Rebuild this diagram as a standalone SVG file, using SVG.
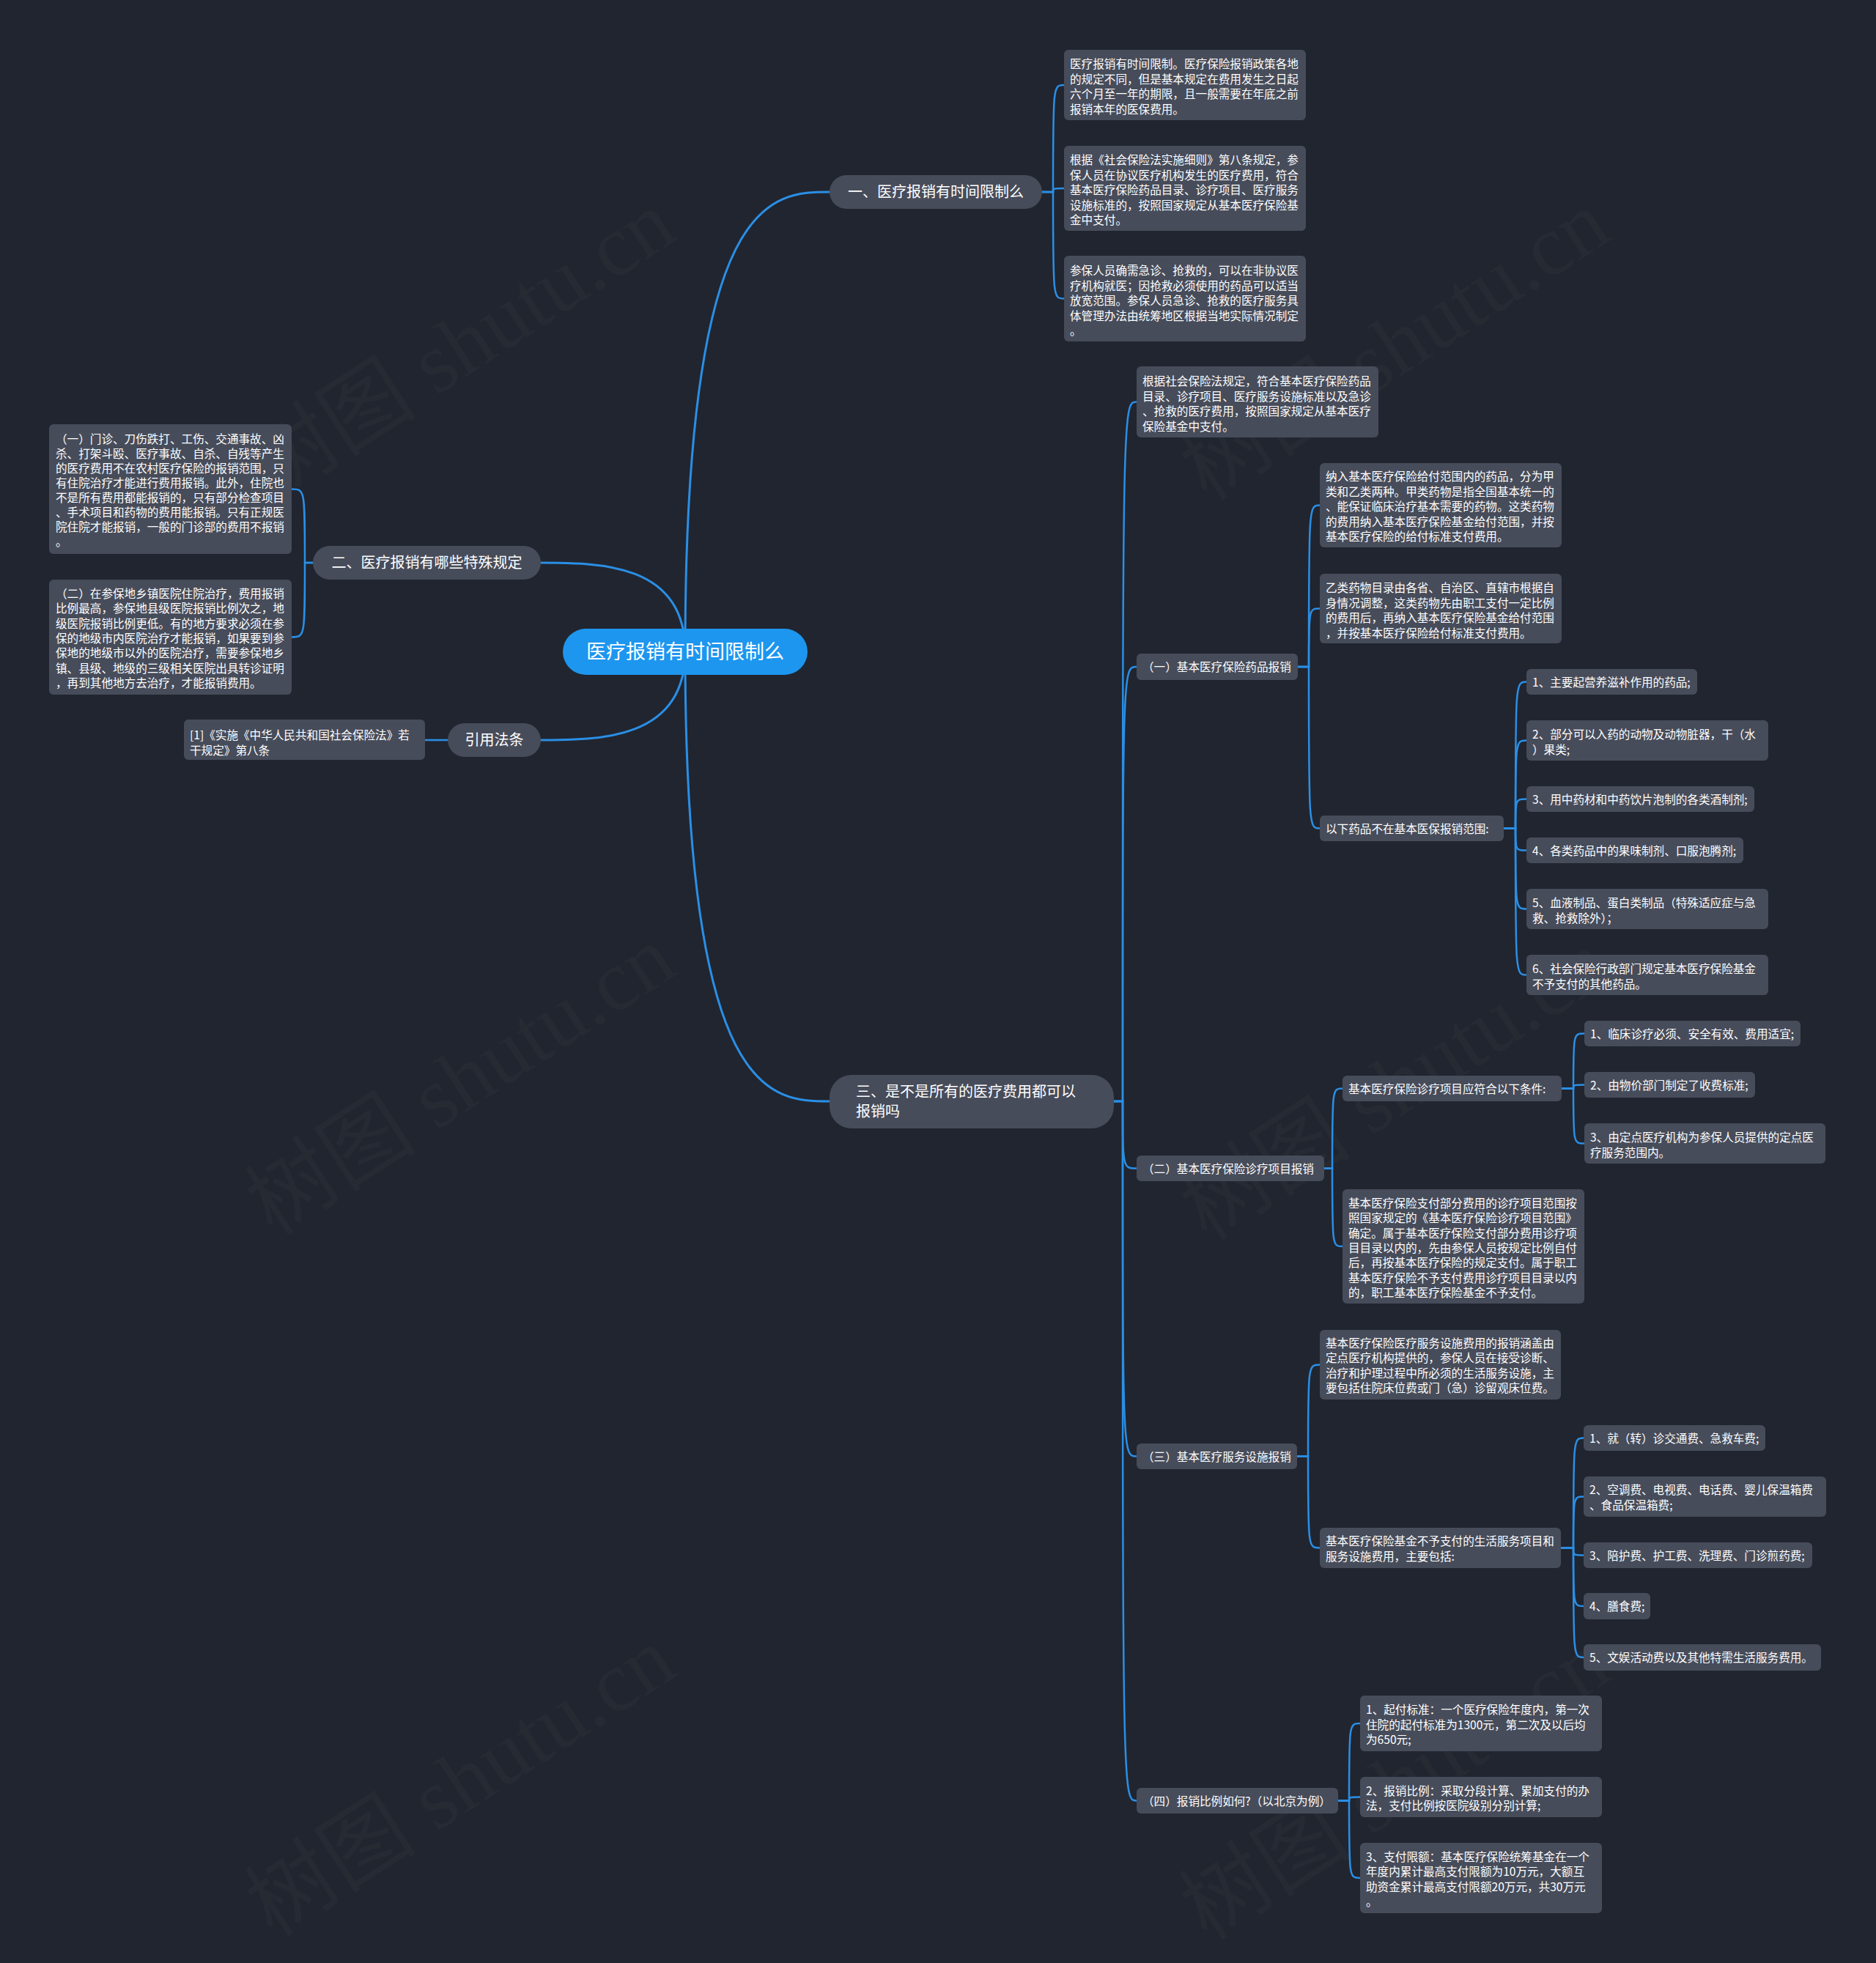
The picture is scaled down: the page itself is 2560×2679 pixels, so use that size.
<svg xmlns="http://www.w3.org/2000/svg" width="2560" height="2679" viewBox="0 0 2560 2679">
<style>
.bg{fill:#21252f}
.wm{fill:#ffffff;fill-opacity:0.025;font-family:"Liberation Serif","Noto Sans CJK SC",serif;font-size:118px}
.ln1{fill:none;stroke:#2a8fe6;stroke-width:3;stroke-linecap:round}
.ln2{fill:none;stroke:#2a8fe6;stroke-width:2.5;stroke-linecap:round}
.box{fill:#474c5a}
.ctr{fill:#1d96ef}
.t{fill:#ffffff;font-family:"Noto Sans CJK SC","Noto Sans",sans-serif;font-size:15.6px}
.tb{fill:#ffffff;font-family:"Noto Sans CJK SC","Noto Sans",sans-serif;font-size:20px}
.tc{fill:#ffffff;font-family:"Noto Sans CJK SC","Noto Sans",sans-serif;font-size:27px}
</style>
<rect class="bg" x="0" y="0" width="2560" height="2679"/>
<g id="watermarks">
<text class="wm" text-anchor="middle" transform="translate(650,505) rotate(-33)">树图 shutu.cn</text>
<text class="wm" text-anchor="middle" transform="translate(1925,505) rotate(-33)">树图 shutu.cn</text>
<text class="wm" text-anchor="middle" transform="translate(650,1508) rotate(-33)">树图 shutu.cn</text>
<text class="wm" text-anchor="middle" transform="translate(1925,1515) rotate(-33)">树图 shutu.cn</text>
<text class="wm" text-anchor="middle" transform="translate(650,2465) rotate(-33)">树图 shutu.cn</text>
<text class="wm" text-anchor="middle" transform="translate(1925,2470) rotate(-33)">树图 shutu.cn</text>
</g>
<g id="connectors">
<path class="ln1" d="M935,889 C935,262 1053,262 1132,262"/>
<path class="ln1" d="M935,889 C935,768 817,768 738,768"/>
<path class="ln1" d="M935,889 C935,1010 817,1010 738,1010"/>
<path class="ln1" d="M935,889 C935,1503 1053,1503 1132,1503"/>
<path class="ln2" d="M611,1010 H580"/>
<path class="ln2" d="M1422,262 H1437 C1437,116 1437,116 1452,116"/>
<path class="ln2" d="M1422,262 H1437 C1437,257 1437,257 1452,257"/>
<path class="ln2" d="M1422,262 H1437 C1437,407.5 1437,407.5 1452,407.5"/>
<path class="ln2" d="M427,768 H416 C416,667.5 416,667.5 398,667.5"/>
<path class="ln2" d="M427,768 H416 C416,869.5 416,869.5 398,869.5"/>
<path class="ln2" d="M1520,1503 H1532 C1532,548.5 1532,548.5 1551,548.5"/>
<path class="ln2" d="M1520,1503 H1532 C1532,910 1532,910 1551,910"/>
<path class="ln2" d="M1520,1503 H1532 C1532,1594.5 1532,1594.5 1551,1594.5"/>
<path class="ln2" d="M1520,1503 H1532 C1532,1987.5 1532,1987.5 1551,1987.5"/>
<path class="ln2" d="M1520,1503 H1532 C1532,2457.5 1532,2457.5 1551,2457.5"/>
<path class="ln2" d="M1771,910 H1786 C1786,689.5 1786,689.5 1801,689.5"/>
<path class="ln2" d="M1771,910 H1786 C1786,830.5 1786,830.5 1801,830.5"/>
<path class="ln2" d="M1771,910 H1786 C1786,1130.5 1786,1130.5 1801,1130.5"/>
<path class="ln2" d="M2052,1130.5 H2068 C2068,930.5 2068,930.5 2083,930.5"/>
<path class="ln2" d="M2052,1130.5 H2068 C2068,1010.5 2068,1010.5 2083,1010.5"/>
<path class="ln2" d="M2052,1130.5 H2068 C2068,1090.5 2068,1090.5 2083,1090.5"/>
<path class="ln2" d="M2052,1130.5 H2068 C2068,1160.5 2068,1160.5 2083,1160.5"/>
<path class="ln2" d="M2052,1130.5 H2068 C2068,1240.5 2068,1240.5 2083,1240.5"/>
<path class="ln2" d="M2052,1130.5 H2068 C2068,1330.5 2068,1330.5 2083,1330.5"/>
<path class="ln2" d="M1807,1594.5 H1818 C1818,1485.5 1818,1485.5 1832,1485.5"/>
<path class="ln2" d="M1807,1594.5 H1818 C1818,1701 1818,1701 1832,1701"/>
<path class="ln2" d="M2131,1485.5 H2147 C2147,1410.5 2147,1410.5 2162,1410.5"/>
<path class="ln2" d="M2131,1485.5 H2147 C2147,1480.5 2147,1480.5 2162,1480.5"/>
<path class="ln2" d="M2131,1485.5 H2147 C2147,1560.5 2147,1560.5 2162,1560.5"/>
<path class="ln2" d="M1770,1987.5 H1785 C1785,1862.5 1785,1862.5 1801,1862.5"/>
<path class="ln2" d="M1770,1987.5 H1785 C1785,2112.5 1785,2112.5 1801,2112.5"/>
<path class="ln2" d="M2130,2112.5 H2147 C2147,1962.5 2147,1962.5 2161,1962.5"/>
<path class="ln2" d="M2130,2112.5 H2147 C2147,2042.5 2147,2042.5 2161,2042.5"/>
<path class="ln2" d="M2130,2112.5 H2147 C2147,2122.5 2147,2122.5 2161,2122.5"/>
<path class="ln2" d="M2130,2112.5 H2147 C2147,2192 2147,2192 2161,2192"/>
<path class="ln2" d="M2130,2112.5 H2147 C2147,2262 2147,2262 2161,2262"/>
<path class="ln2" d="M1826,2457.5 H1841 C1841,2352 1841,2352 1856,2352"/>
<path class="ln2" d="M1826,2457.5 H1841 C1841,2452.5 1841,2452.5 1856,2452.5"/>
<path class="ln2" d="M1826,2457.5 H1841 C1841,2563 1841,2563 1856,2563"/>
</g>
<g id="center">
<rect class="ctr" x="768" y="858" width="334" height="63" rx="31.5"/>
<text class="tc" x="935" y="899" text-anchor="middle">医疗报销有时间限制么</text>
</g>
<g id="b1">
<rect class="box" x="1132" y="239" width="290" height="46" rx="23"/>
<text class="tb" x="1277" y="269" text-anchor="middle">一、医疗报销有时间限制么</text>
</g>
<g id="b1n1">
<rect class="box" x="1452" y="68" width="330" height="96" rx="6"/>
<text class="t"><tspan x="1460" y="93">医疗报销有时间限制。医疗保险报销政策各地</tspan><tspan x="1460" y="113.5">的规定不同，但是基本规定在费用发生之日起</tspan><tspan x="1460" y="134">六个月至一年的期限，且一般需要在年底之前</tspan><tspan x="1460" y="154.5">报销本年的医保费用。</tspan></text>
</g>
<g id="b1n2">
<rect class="box" x="1452" y="199" width="330" height="116" rx="6"/>
<text class="t"><tspan x="1460" y="224">根据《社会保险法实施细则》第八条规定，参</tspan><tspan x="1460" y="244.5">保人员在协议医疗机构发生的医疗费用，符合</tspan><tspan x="1460" y="265">基本医疗保险药品目录、诊疗项目、医疗服务</tspan><tspan x="1460" y="285.5">设施标准的，按照国家规定从基本医疗保险基</tspan><tspan x="1460" y="306">金中支付。</tspan></text>
</g>
<g id="b1n3">
<rect class="box" x="1452" y="349" width="330" height="117" rx="6"/>
<text class="t"><tspan x="1460" y="375">参保人员确需急诊、抢救的，可以在非协议医</tspan><tspan x="1460" y="395.5">疗机构就医；因抢救必须使用的药品可以适当</tspan><tspan x="1460" y="416">放宽范围。参保人员急诊、抢救的医疗服务具</tspan><tspan x="1460" y="436.5">体管理办法由统筹地区根据当地实际情况制定</tspan><tspan x="1460" y="457">。</tspan></text>
</g>
<g id="b2">
<rect class="box" x="427" y="745" width="311" height="46" rx="23"/>
<text class="tb" x="582.5" y="775" text-anchor="middle">二、医疗报销有哪些特殊规定</text>
</g>
<g id="b2n1">
<rect class="box" x="67" y="579" width="331" height="177" rx="6"/>
<text class="t"><tspan x="76" y="605">（一）门诊、刀伤跌打、工伤、交通事故、凶</tspan><tspan x="76" y="625">杀、打架斗殴、医疗事故、自杀、自残等产生</tspan><tspan x="76" y="645">的医疗费用不在农村医疗保险的报销范围，只</tspan><tspan x="76" y="665">有住院治疗才能进行费用报销。此外，住院也</tspan><tspan x="76" y="685">不是所有费用都能报销的，只有部分检查项目</tspan><tspan x="76" y="705">、手术项目和药物的费用能报销。只有正规医</tspan><tspan x="76" y="725">院住院才能报销，一般的门诊部的费用不报销</tspan><tspan x="76" y="745">。</tspan></text>
</g>
<g id="b2n2">
<rect class="box" x="67" y="791" width="331" height="157" rx="6"/>
<text class="t"><tspan x="76" y="816">（二）在参保地乡镇医院住院治疗，费用报销</tspan><tspan x="76" y="836.3">比例最高，参保地县级医院报销比例次之，地</tspan><tspan x="76" y="856.6">级医院报销比例更低。有的地方要求必须在参</tspan><tspan x="76" y="876.9">保的地级市内医院治疗才能报销，如果要到参</tspan><tspan x="76" y="897.2">保地的地级市以外的医院治疗，需要参保地乡</tspan><tspan x="76" y="917.5">镇、县级、地级的三级相关医院出具转诊证明</tspan><tspan x="76" y="937.8">，再到其他地方去治疗，才能报销费用。</tspan></text>
</g>
<g id="cite">
<rect class="box" x="611" y="987" width="127" height="46" rx="23"/>
<text class="tb" x="674.5" y="1017" text-anchor="middle">引用法条</text>
</g>
<g id="citen">
<rect class="box" x="251" y="982" width="329" height="55" rx="6"/>
<text class="t"><tspan x="259" y="1009">[1]《实施《中华人民共和国社会保险法》若</tspan><tspan x="259" y="1029.5">干规定》第八条</tspan></text>
</g>
<g id="b3">
<rect class="box" x="1132" y="1467" width="388" height="73" rx="30"/>
<text class="tb"><tspan x="1168" y="1497">三、是不是所有的医疗费用都可以</tspan><tspan x="1168" y="1524">报销吗</tspan></text>
</g>
<g id="b3n0">
<rect class="box" x="1551" y="500" width="330" height="97" rx="6"/>
<text class="t"><tspan x="1559" y="526">根据社会保险法规定，符合基本医疗保险药品</tspan><tspan x="1559" y="546.5">目录、诊疗项目、医疗服务设施标准以及急诊</tspan><tspan x="1559" y="567">、抢救的医疗费用，按照国家规定从基本医疗</tspan><tspan x="1559" y="587.5">保险基金中支付。</tspan></text>
</g>
<g id="s1">
<rect class="box" x="1551" y="892" width="220" height="36" rx="6"/>
<text class="t" x="1559" y="916">（一）基本医疗保险药品报销</text>
</g>
<g id="s1n1">
<rect class="box" x="1801" y="632" width="330" height="115" rx="6"/>
<text class="t"><tspan x="1809" y="656">纳入基本医疗保险给付范围内的药品，分为甲</tspan><tspan x="1809" y="676.5">类和乙类两种。甲类药物是指全国基本统一的</tspan><tspan x="1809" y="697">、能保证临床治疗基本需要的药物。这类药物</tspan><tspan x="1809" y="717.5">的费用纳入基本医疗保险基金给付范围，并按</tspan><tspan x="1809" y="738">基本医疗保险的给付标准支付费用。</tspan></text>
</g>
<g id="s1n2">
<rect class="box" x="1801" y="783" width="330" height="95" rx="6"/>
<text class="t"><tspan x="1809" y="808">乙类药物目录由各省、自治区、直辖市根据自</tspan><tspan x="1809" y="828.5">身情况调整，这类药物先由职工支付一定比例</tspan><tspan x="1809" y="849">的费用后，再纳入基本医疗保险基金给付范围</tspan><tspan x="1809" y="869.5">，并按基本医疗保险给付标准支付费用。</tspan></text>
</g>
<g id="s1x">
<rect class="box" x="1801" y="1113" width="251" height="35" rx="6"/>
<text class="t" x="1809" y="1136.5">以下药品不在基本医保报销范围:</text>
</g>
<g id="s1x1">
<rect class="box" x="2083" y="913" width="233" height="35" rx="6"/>
<text class="t" x="2091" y="936.5">1、主要起营养滋补作用的药品;</text>
</g>
<g id="s1x2">
<rect class="box" x="2083" y="983" width="330" height="55" rx="6"/>
<text class="t"><tspan x="2091" y="1008">2、部分可以入药的动物及动物脏器，干（水</tspan><tspan x="2091" y="1028.5">）果类;</tspan></text>
</g>
<g id="s1x3">
<rect class="box" x="2083" y="1073" width="311" height="35" rx="6"/>
<text class="t" x="2091" y="1096.5">3、用中药材和中药饮片泡制的各类酒制剂;</text>
</g>
<g id="s1x4">
<rect class="box" x="2083" y="1143" width="296" height="35" rx="6"/>
<text class="t" x="2091" y="1166.5">4、各类药品中的果味制剂、口服泡腾剂;</text>
</g>
<g id="s1x5">
<rect class="box" x="2083" y="1213" width="330" height="55" rx="6"/>
<text class="t"><tspan x="2091" y="1238">5、血液制品、蛋白类制品（特殊适应症与急</tspan><tspan x="2091" y="1258.5">救、抢救除外）；</tspan></text>
</g>
<g id="s1x6">
<rect class="box" x="2083" y="1303" width="330" height="55" rx="6"/>
<text class="t"><tspan x="2091" y="1328">6、社会保险行政部门规定基本医疗保险基金</tspan><tspan x="2091" y="1348.5">不予支付的其他药品。</tspan></text>
</g>
<g id="s2">
<rect class="box" x="1551" y="1577" width="256" height="35" rx="6"/>
<text class="t" x="1559" y="1600.5">（二）基本医疗保险诊疗项目报销</text>
</g>
<g id="s2c">
<rect class="box" x="1832" y="1468" width="299" height="35" rx="6"/>
<text class="t" x="1840" y="1491.5">基本医疗保险诊疗项目应符合以下条件:</text>
</g>
<g id="s2c1">
<rect class="box" x="2162" y="1393" width="295" height="35" rx="6"/>
<text class="t" x="2170" y="1416.5">1、临床诊疗必须、安全有效、费用适宜;</text>
</g>
<g id="s2c2">
<rect class="box" x="2162" y="1463" width="233" height="35" rx="6"/>
<text class="t" x="2170" y="1486.5">2、由物价部门制定了收费标准;</text>
</g>
<g id="s2c3">
<rect class="box" x="2162" y="1533" width="329" height="55" rx="6"/>
<text class="t"><tspan x="2170" y="1558">3、由定点医疗机构为参保人员提供的定点医</tspan><tspan x="2170" y="1578.5">疗服务范围内。</tspan></text>
</g>
<g id="s2n">
<rect class="box" x="1832" y="1623" width="330" height="156" rx="6"/>
<text class="t"><tspan x="1840" y="1648">基本医疗保险支付部分费用的诊疗项目范围按</tspan><tspan x="1840" y="1668.3">照国家规定的《基本医疗保险诊疗项目范围》</tspan><tspan x="1840" y="1688.6">确定。属于基本医疗保险支付部分费用诊疗项</tspan><tspan x="1840" y="1708.9">目目录以内的，先由参保人员按规定比例自付</tspan><tspan x="1840" y="1729.2">后，再按基本医疗保险的规定支付。属于职工</tspan><tspan x="1840" y="1749.5">基本医疗保险不予支付费用诊疗项目目录以内</tspan><tspan x="1840" y="1769.8">的，职工基本医疗保险基金不予支付。</tspan></text>
</g>
<g id="s3">
<rect class="box" x="1551" y="1970" width="219" height="35" rx="6"/>
<text class="t" x="1559" y="1993.5">（三）基本医疗服务设施报销</text>
</g>
<g id="s3n">
<rect class="box" x="1801" y="1815" width="329" height="95" rx="6"/>
<text class="t"><tspan x="1809" y="1839">基本医疗保险医疗服务设施费用的报销涵盖由</tspan><tspan x="1809" y="1859.3">定点医疗机构提供的，参保人员在接受诊断、</tspan><tspan x="1809" y="1879.6">治疗和护理过程中所必须的生活服务设施，主</tspan><tspan x="1809" y="1899.9">要包括住院床位费或门（急）诊留观床位费。</tspan></text>
</g>
<g id="s3x">
<rect class="box" x="1801" y="2085" width="329" height="55" rx="6"/>
<text class="t"><tspan x="1809" y="2109">基本医疗保险基金不予支付的生活服务项目和</tspan><tspan x="1809" y="2129.5">服务设施费用，主要包括:</tspan></text>
</g>
<g id="s3x1">
<rect class="box" x="2161" y="1945" width="248" height="35" rx="6"/>
<text class="t" x="2169" y="1968.5">1、就（转）诊交通费、急救车费;</text>
</g>
<g id="s3x2">
<rect class="box" x="2161" y="2015" width="331" height="55" rx="6"/>
<text class="t"><tspan x="2169" y="2039">2、空调费、电视费、电话费、婴儿保温箱费</tspan><tspan x="2169" y="2059.5">、食品保温箱费;</tspan></text>
</g>
<g id="s3x3">
<rect class="box" x="2161" y="2105" width="312" height="35" rx="6"/>
<text class="t" x="2169" y="2128.5">3、陪护费、护工费、洗理费、门诊煎药费;</text>
</g>
<g id="s3x4">
<rect class="box" x="2161" y="2174" width="91" height="36" rx="6"/>
<text class="t" x="2169" y="2198">4、膳食费;</text>
</g>
<g id="s3x5">
<rect class="box" x="2161" y="2244" width="324" height="36" rx="6"/>
<text class="t" x="2169" y="2268">5、文娱活动费以及其他特需生活服务费用。</text>
</g>
<g id="s4">
<rect class="box" x="1551" y="2440" width="275" height="35" rx="6"/>
<text class="t" x="1559" y="2463.5">（四）报销比例如何?（以北京为例）</text>
</g>
<g id="s4a">
<rect class="box" x="1856" y="2314" width="330" height="76" rx="6"/>
<text class="t"><tspan x="1864" y="2339">1、起付标准：一个医疗保险年度内，第一次</tspan><tspan x="1864" y="2359.5">住院的起付标准为1300元，第二次及以后均</tspan><tspan x="1864" y="2380">为650元;</tspan></text>
</g>
<g id="s4b">
<rect class="box" x="1856" y="2425" width="330" height="55" rx="6"/>
<text class="t"><tspan x="1864" y="2449.5">2、报销比例：采取分段计算、累加支付的办</tspan><tspan x="1864" y="2470">法，支付比例按医院级别分别计算;</tspan></text>
</g>
<g id="s4c">
<rect class="box" x="1856" y="2515" width="330" height="96" rx="6"/>
<text class="t"><tspan x="1864" y="2539.5">3、支付限额：基本医疗保险统筹基金在一个</tspan><tspan x="1864" y="2560">年度内累计最高支付限额为10万元，大额互</tspan><tspan x="1864" y="2580.5">助资金累计最高支付限额20万元，共30万元</tspan><tspan x="1864" y="2601">。</tspan></text>
</g>
</svg>
